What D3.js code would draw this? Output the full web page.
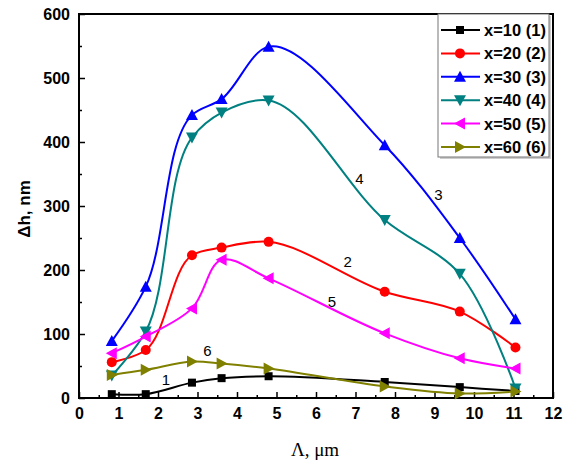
<!DOCTYPE html>
<html><head><meta charset="UTF-8">
<title>dh vs period</title>
<script src="https://d3js.org/d3.v7.min.js"></script>
<style>
  body { margin: 0; background: #fff; }
  text { font-family: "Liberation Sans", Arial, sans-serif; }
</style>
</head>
<body>
<svg id="chart" width="570" height="464"></svg>
<script>
// period, um (same for every series)
var lambda = [0.83, 1.69, 2.86, 3.61, 4.8, 7.74, 9.64, 11.05];
// dh, nm
var s1 = [6, 6, 24, 31, 34, 25, 17, 11];
var s2 = [56, 75, 223, 235, 244, 166, 135, 79];
var s3 = [89, 174, 442, 467, 549, 395, 250, 123];
var s4 = [35, 104, 407, 446, 465, 278, 194, 15];
var s5 = [70, 96, 140, 216, 187, 101, 62, 46];
var s6 = [36, 44, 57, 54, 46, 18, 7, 10];
var names = ["x=10 (1)", "x=20 (2)", "x=30 (3)", "x=40 (4)", "x=50 (5)", "x=60 (6)"];
var colors = ["#000000", "#ff0000", "#0000ff", "#008080", "#ff00ff", "#808000"];
var shapes = ["square", "circle", "up", "down", "left", "right"];
// curve number labels: [lambda, dh]
var tags = [["1", 2.2, 20], ["2", 6.8, 205], ["3", 9.1, 310], ["4", 7.1, 335], ["5", 6.4, 142], ["6", 3.25, 65]];

var series = [s1, s2, s3, s4, s5, s6];

var svg = d3.select("#chart");
var mLeft = 79, mRight = 553, mTop = 14, mBottom = 398;

var x = d3.scaleLinear().domain([0, 12]).range([mLeft, mRight]);
var y = d3.scaleLinear().domain([0, 600]).range([mBottom, mTop]);

// ticks, pointing inward
var xAxis = d3.axisBottom(x).tickValues(d3.range(0, 13)).tickSize(-6).tickPadding(10);
var xMinor = d3.axisBottom(x).tickValues(d3.range(0.5, 12, 1)).tickSize(-3).tickFormat("");
var yAxis = d3.axisLeft(y).tickValues(d3.range(0, 601, 100)).tickSize(-6).tickPadding(9);
var yMinor = d3.axisLeft(y).tickValues(d3.range(50, 600, 100)).tickSize(-3).tickFormat("");

function styleAxis(g) {
  g.select(".domain").remove();
  g.selectAll("line").attr("stroke", "#000").attr("stroke-width", 1.5);
  g.selectAll("text").attr("font-size", 16).attr("font-weight", "bold").attr("fill", "#000")
    .style("font-family", "'Liberation Sans', Arial, sans-serif");
}

svg.append("g").attr("transform", "translate(0," + mBottom + ")").call(xAxis).call(styleAxis);
svg.append("g").attr("transform", "translate(0," + mBottom + ")").call(xMinor).call(styleAxis);
svg.append("g").attr("transform", "translate(" + mLeft + ",0)").call(yAxis).call(styleAxis);
svg.append("g").attr("transform", "translate(" + mLeft + ",0)").call(yMinor).call(styleAxis);

// frame
svg.append("rect").attr("x", mLeft).attr("y", mTop)
  .attr("width", mRight - mLeft).attr("height", mBottom - mTop)
  .attr("fill", "none").attr("stroke", "#000").attr("stroke-width", 2);

var line = d3.line()
  .x(function(d) { return x(d[0]); })
  .y(function(d) { return y(d[1]); })
  .curve(d3.curveCatmullRom.alpha(0.7));

function marker(g, shape, color, cx, cy) {
  var r = 5;
  if (shape == "square") {
    g.append("rect").attr("x", cx - 4).attr("y", cy - 4).attr("width", 8).attr("height", 8).attr("fill", color);
  } else if (shape == "circle") {
    g.append("circle").attr("cx", cx).attr("cy", cy).attr("r", 5).attr("fill", color);
  } else {
    var pts;
    if (shape == "up") pts = [[0, -r - 1], [r + 1, r], [-r - 1, r]];
    if (shape == "down") pts = [[0, r + 1], [r + 1, -r], [-r - 1, -r]];
    if (shape == "left") pts = [[-r - 1, 0], [r, -r - 1], [r, r + 1]];
    if (shape == "right") pts = [[r + 1, 0], [-r, -r - 1], [-r, r + 1]];
    g.append("polygon").attr("points", pts.map(function(p) { return (cx + p[0]) + "," + (cy + p[1]); }).join(" "))
      .attr("fill", color);
  }
}

var plot = svg.append("g");
series.forEach(function(s, i) {
  var pts = lambda.map(function(l, j) { return [l, s[j]]; });
  plot.append("path").datum(pts).attr("d", line)
    .attr("fill", "none").attr("stroke", colors[i]).attr("stroke-width", 2);
  pts.forEach(function(p) { marker(plot, shapes[i], colors[i], x(p[0]), y(p[1])); });
});

// curve numbers
svg.selectAll(".tag").data(tags).enter().append("text")
  .attr("x", function(d) { return x(d[1]); })
  .attr("y", function(d) { return y(d[2]); })
  .attr("text-anchor", "middle").attr("font-size", 15).attr("fill", "#000")
  .text(function(d) { return d[0]; });

// legend
var lg = svg.append("g");
lg.append("rect").attr("x", 440).attr("y", 16).attr("width", 111).attr("height", 143).attr("fill", "#ccc");
lg.append("rect").attr("x", 438).attr("y", 14).attr("width", 111).attr("height", 143)
  .attr("fill", "#fff").attr("stroke", "#777").attr("stroke-width", 1);
names.forEach(function(n, i) {
  var ly = 30 + i * 23.4;
  lg.append("line").attr("x1", 441).attr("x2", 480).attr("y1", ly).attr("y2", ly)
    .attr("stroke", colors[i]).attr("stroke-width", 2);
  marker(lg, shapes[i], colors[i], 460, ly);
  lg.append("text").attr("x", 484).attr("y", ly + 6)
    .attr("font-size", 16.5).attr("font-weight", "bold").text(n);
});

// axis titles
svg.append("text").attr("x", 315).attr("y", 456).attr("text-anchor", "middle")
  .style("font-family", "'Liberation Serif', 'Times New Roman', serif")
  .attr("font-size", 19).text("Λ, μm");
svg.append("text").attr("transform", "translate(30,209) rotate(-90)")
  .attr("text-anchor", "middle").attr("font-size", 17).attr("font-weight", "bold")
  .text("Δh, nm");
</script>
</body></html>
